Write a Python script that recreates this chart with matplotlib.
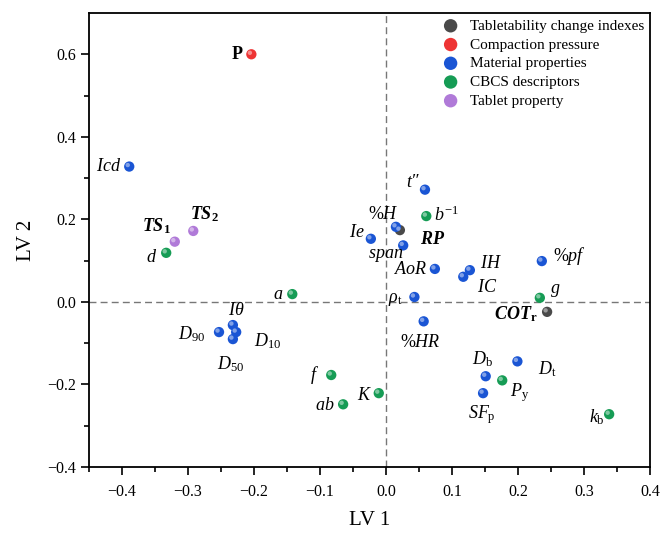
import matplotlib
matplotlib.use("Agg")
import matplotlib.pyplot as plt
import matplotlib.transforms as mtransforms

plt.rcParams['font.family'] = ['Liberation Serif', 'DejaVu Serif']
plt.rcParams['mathtext.fontset'] = 'custom'
plt.rcParams['mathtext.rm'] = 'Liberation Serif'
plt.rcParams['mathtext.it'] = 'Liberation Serif:italic'
plt.rcParams['mathtext.bf'] = 'Liberation Serif:bold'
plt.rcParams['mathtext.bfit'] = 'Liberation Serif:italic:bold'

# variable groups (legend order)
groups = ["Tabletability change indexes", "Compaction pressure",
          "Material properties", "CBCS descriptors", "Tablet property"]
group_colors = ["#4a4a4a", "#ee3434", "#1a55d4", "#169c55", "#b07ad8"]

# loadings: label, LV1, LV2, group index
labels = [r"$\mathbf{P}$", r"$\mathit{Icd}$", r"$\mathbfit{TS}_{\mathbf{1}}$",
          r"$\mathbfit{TS}_{\mathbf{2}}$", r"$\mathit{d}$", r"$\mathit{a}$",
          r"$\mathit{I\theta}$", r"$\mathit{D}_{\mathrm{90}}$", r"$\mathit{D}_{\mathrm{10}}$",
          r"$\mathit{D}_{\mathrm{50}}$", r"$\mathit{f}$", r"$\mathit{ab}$", r"$\mathit{K}$",
          "t\u2033", r"$\mathit{b}^{\mathrm{-1}}$", r"$\mathit{\%H}$",
          r"$\mathbfit{RP}$", r"$\mathit{Ie}$", r"$\mathit{span}$", r"$\mathit{AoR}$",
          r"$\mathit{IH}$", r"$\mathit{IC}$", r"$\mathit{\%pf}$", r"$\mathit{\rho}_{\mathrm{t}}$",
          r"$\mathit{g}$", r"$\mathbfit{COT}_{\mathbf{r}}$", r"$\mathit{\%HR}$",
          r"$\mathit{D}_{\mathrm{b}}$", r"$\mathit{D}_{\mathrm{t}}$", r"$\mathit{P}_{\mathrm{y}}$",
          r"$\mathit{SF}_{\mathrm{p}}$", r"$\mathit{k}_{\mathrm{b}}$"]
lv1 = [-0.204, -0.389, -0.320, -0.292, -0.333, -0.142,
       -0.232, -0.253, -0.227, -0.232, -0.083, -0.065, -0.011,
       0.059, 0.061, 0.015, 0.021, -0.023, 0.026, 0.074,
       0.127, 0.117, 0.236, 0.043, 0.233, 0.244, 0.057,
       0.151, 0.199, 0.176, 0.147, 0.338]
lv2 = [0.600, 0.328, 0.146, 0.172, 0.119, 0.019,
       -0.056, -0.073, -0.073, -0.090, -0.177, -0.248, -0.221,
       0.272, 0.208, 0.182, 0.174, 0.153, 0.137, 0.080,
       0.077, 0.061, 0.099, 0.012, 0.010, -0.024, -0.047,
       -0.180, -0.144, -0.190, -0.221, -0.272]
group_of = [1, 2, 4, 4, 3, 3,
            2, 2, 2, 2, 3, 3, 3,
            2, 3, 2, 0, 2, 2, 2,
            2, 2, 2, 2, 3, 0, 2,
            2, 2, 3, 2, 3]

# label placement (pixel offset, horizontal alignment)
label_pos = [(-8, 0, 'right'), (-8, 0, 'right'), (-4, 16, 'right'), (11, 17, 'center'),
             (-9, -5, 'right'), (-9, 0, 'right'), (3, 15, 'center'), (-14, -2, 'right'),
             (18, -9, 'left'), (-2, -25, 'center'), (-12, 0, 'right'), (-9, -1, 'right'),
             (-7, -2, 'right'), (-6, 7, 'right'), (8, 1, 'left'), (-13, 12, 'center'),
             (20, -9, 'left'), (-6, 6, 'right'), (-18, -10, 'center'), (-7, -1, 'right'),
             (10, 7, 'left'), (14, -11, 'left'), (11, 5, 'left'), (-12, -3, 'right'),
             (10, 7, 'left'), (-10, -2, 'right'), (-3, -21, 'center'), (-3, 17, 'center'),
             (21, -8, 'left'), (8, -12, 'left'), (-1, -21, 'center'), (-4, -3, 'right')]

fig = plt.figure(figsize=(6.62, 5.35), dpi=100)
ax = fig.add_axes([0.1344, 0.127, 0.8476, 0.8487])

ax.axhline(0, color="#777777", ls=(0, (5, 3)), lw=1.0, zorder=1)
ax.axvline(0, color="#777777", ls=(0, (5, 3)), lw=1.0, zorder=1)

hl = mtransforms.offset_copy(ax.transData, fig=fig, x=-1.5, y=1.5, units='dots')
for gi, (gname, col) in enumerate(zip(groups, group_colors)):
    xs = [x for x, g in zip(lv1, group_of) if g == gi]
    ys = [y for y, g in zip(lv2, group_of) if g == gi]
    ax.scatter(xs, ys, s=55, color=col, edgecolors='none', zorder=3, label=gname)
    ax.scatter(xs, ys, s=10, color='white', alpha=0.45, edgecolors='none',
               zorder=4, transform=hl)

for lab, x, y, (dx, dy, ha) in zip(labels, lv1, lv2, label_pos):
    ax.annotate(lab, (x, y), xytext=(dx, dy), textcoords='offset pixels',
                ha=ha, va='center', fontsize=13, fontstyle='italic', zorder=5)

ax.set_xlim(-0.45, 0.4)
ax.set_ylim(-0.4, 0.7)
ax.set_xticks([-0.4, -0.3, -0.2, -0.1, 0.0, 0.1, 0.2, 0.3, 0.4])
ax.set_xticks([-0.45, -0.35, -0.25, -0.15, -0.05, 0.05, 0.15, 0.25, 0.35], minor=True)
ax.set_yticks([-0.4, -0.2, 0.0, 0.2, 0.4, 0.6])
ax.set_yticks([-0.3, -0.1, 0.1, 0.3, 0.5], minor=True)
ax.tick_params(which='major', direction='out', length=6, width=1.2, labelsize=11.5)
ax.tick_params(axis='x', which='major', pad=6)
ax.tick_params(which='minor', direction='out', length=3.5, width=1.2)
for sp in ax.spines.values():
    sp.set_linewidth(1.3)

ax.set_xlabel("LV 1", fontsize=15, labelpad=8)
ax.set_ylabel("LV 2", fontsize=15, labelpad=8)

leg = ax.legend(loc='upper right', frameon=False, fontsize=11, markerscale=1.3,
                handletextpad=0.45, labelspacing=0.33, borderaxespad=0.0,
                handlelength=1.6, bbox_to_anchor=(1.0, 1.0))

fig.savefig("out.png", dpi=100)
